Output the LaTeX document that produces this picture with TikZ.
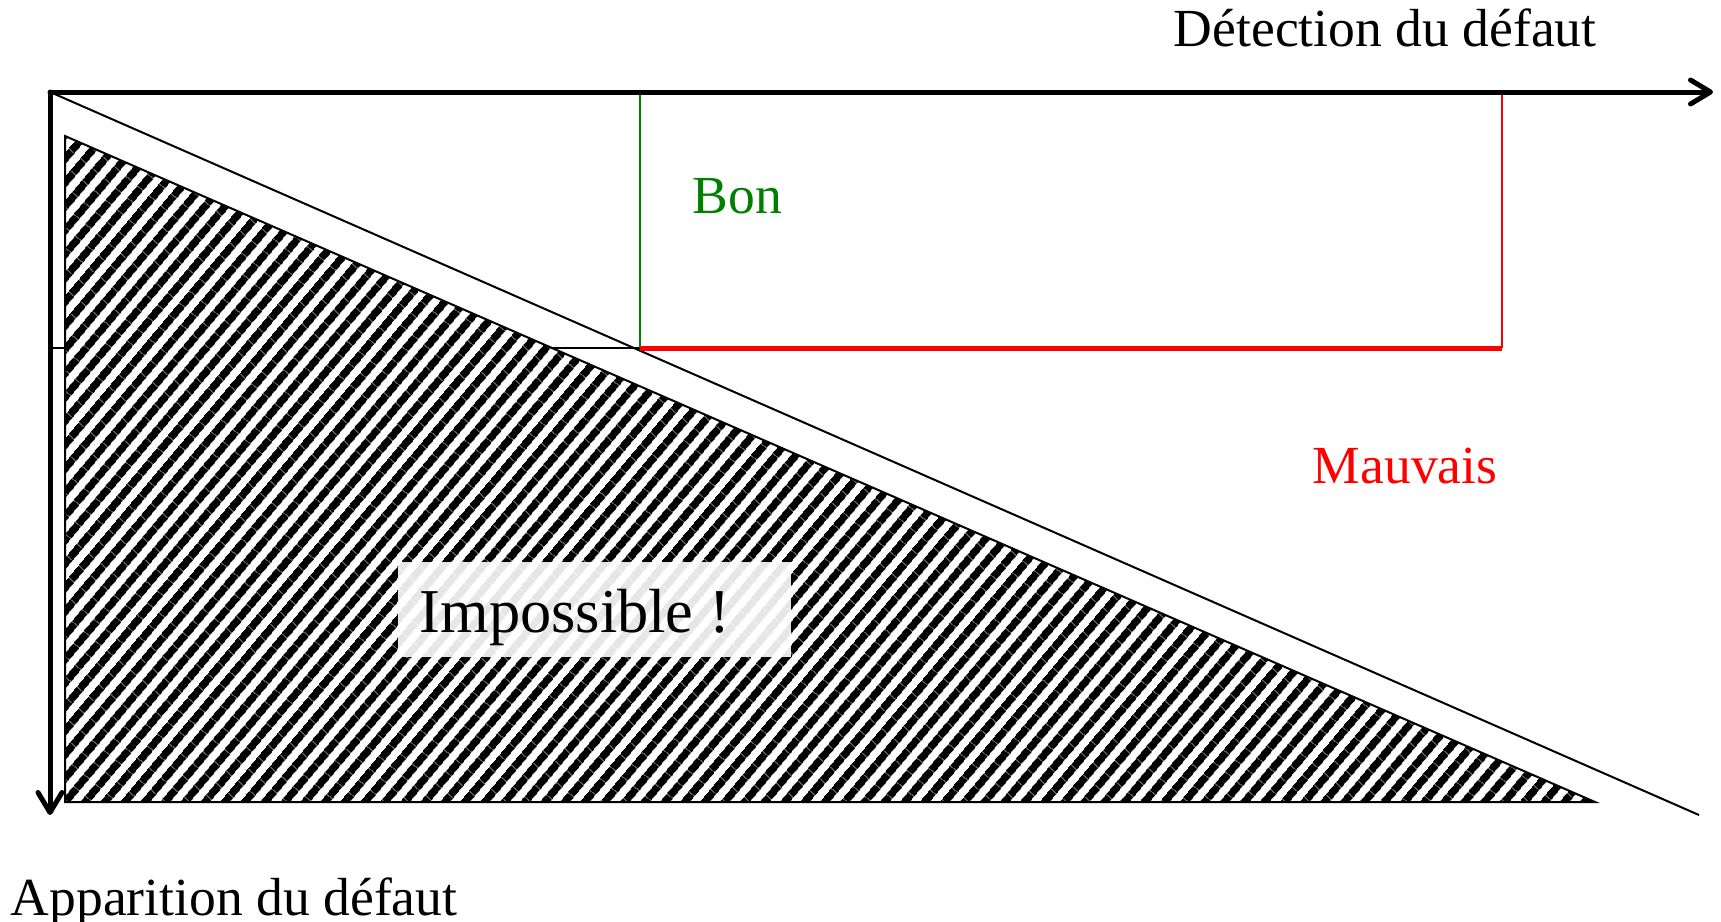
\documentclass[tikz,border=0pt]{standalone}
\usepackage{fontspec}
\setmainfont{Liberation Serif}
\usetikzlibrary{arrows.meta,patterns.meta}
\definecolor{BonGreen}{RGB}{0,128,0}
\definecolor{MauvaisRed}{RGB}{255,0,0}

\begin{document}
\begin{tikzpicture}[
    x=0.25pt,y=-0.25pt,
    axis/.style={line width=1.25pt,line cap=round,-{Straight Barb[length=5pt,width=6pt,round]}},
    fine/.style={line width=0.5pt},
    hatch/.style={fine,preaction={fill=white},pattern={Lines[angle=50,distance=4pt,line width=2pt]}},
    lbl/.style={inner sep=0pt,anchor=base west,font=\fontsize{13.4}{16}\selectfont},
    impbox/.style={fill=white,fill opacity=0.9,inner sep=0pt,anchor=north west,minimum width=98.25pt,minimum height=23.75pt}
  ]
    \useasboundingbox (0,0) rectangle (1721,921);
    % corners of the chart
    \coordinate (O) at (50,92);
    \coordinate (xend) at (1713,92);
    \coordinate (yend) at (50,815);
    \coordinate (diagend) at (1699,815);
    \coordinate (lim) at (50,348);
    \coordinate (bonbot) at (640,348);
    \coordinate (bontop) at (640,92);
    \coordinate (mvbot) at (1502,348);
    \coordinate (mvtop) at (1502,92);
    \draw[fine] (lim) -- (bonbot);
    \draw[fine] (O) -- (diagend);
    % impossible region
    \draw[hatch] (65,136) -- (65,802) -- (1595,802) -- cycle;
    \node[impbox] (box) at (397,561) {};
    \node[lbl,font=\fontsize{15.6}{18}\selectfont] (imp) at (419,632) {Impossible !};
    % good / bad zones
    \draw[fine,BonGreen] (bonbot) -- (bontop);
    \draw[fine,MauvaisRed] (mvbot) -- (mvtop);
    \draw[line width=1.25pt,MauvaisRed] (bonbot) -- (mvbot);
    \node[lbl,text=BonGreen] (bon) at (692,213) {Bon};
    \node[lbl,text=MauvaisRed] (mauvais) at (1312,483) {Mauvais};
    % axes
    \draw[axis] (O) -- (xend);
    \draw[axis] (O) -- (yend);
    \node[lbl] (detect) at (1173,47) {Détection du défaut};
    \node[lbl] (appar) at (10,915) {Apparition du défaut};
  \end{tikzpicture}
\end{document}
